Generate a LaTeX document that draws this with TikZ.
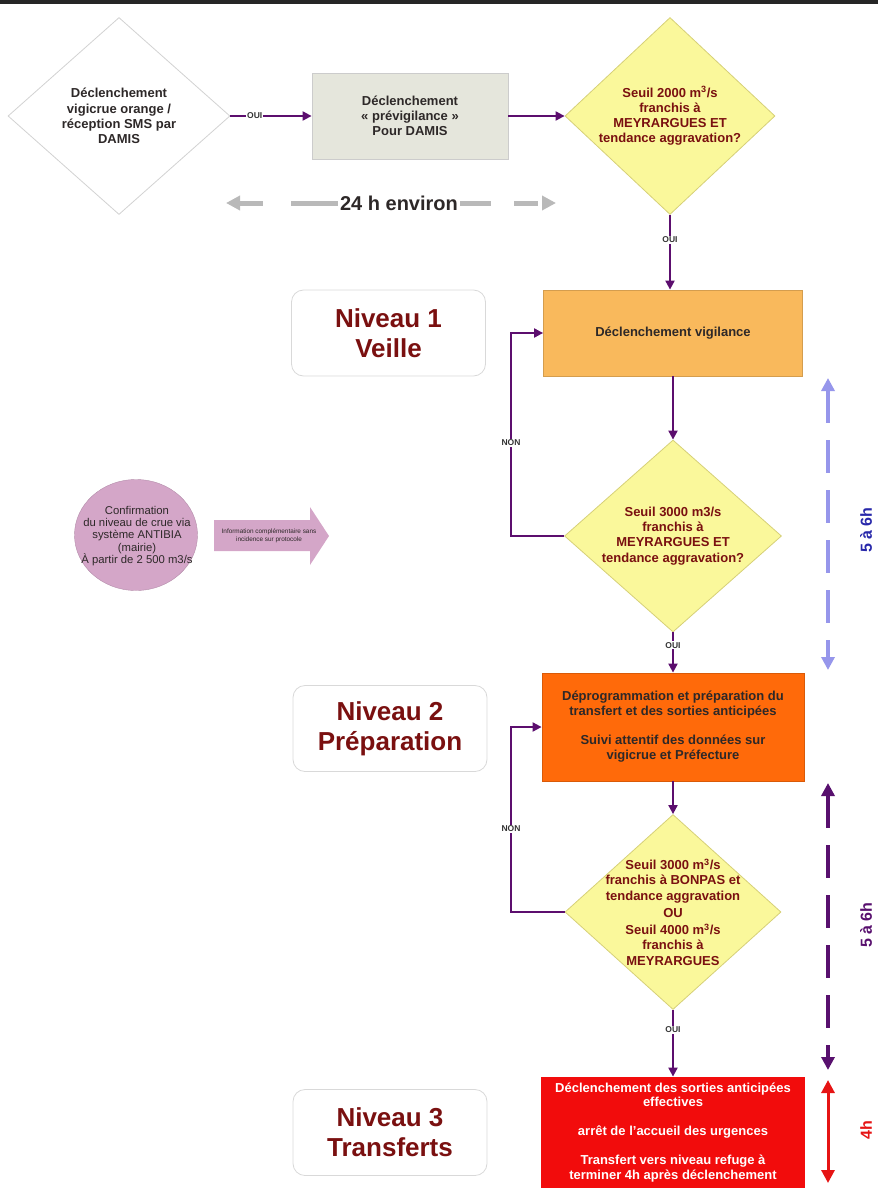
\documentclass[tikz,border=0pt]{standalone}
\usepackage{fontspec}
\setmainfont{Liberation Sans}
\usetikzlibrary{shapes.geometric,arrows.meta}

\definecolor{flowc}{RGB}{92,14,110}
\definecolor{seuilred}{RGB}{122,16,16}
\definecolor{textdark}{RGB}{45,40,40}
\definecolor{yellowfill}{RGB}{250,248,155}
\definecolor{yellowline}{RGB}{214,208,120}
\definecolor{prevfill}{RGB}{229,230,220}
\definecolor{vigfill}{RGB}{249,185,92}
\definecolor{prepfill}{RGB}{255,106,10}
\definecolor{transfill}{RGB}{242,12,12}
\definecolor{mauvefill}{RGB}{212,166,200}
\definecolor{spanblue}{RGB}{150,150,235}
\definecolor{spanbluetext}{RGB}{40,40,170}
\definecolor{spanpurple}{RGB}{88,16,110}
\definecolor{spanred}{RGB}{230,20,20}

\tikzset{
  decision/.style={diamond, minimum width=216pt, minimum height=195pt, inner sep=0pt,
    draw=yellowline, fill=yellowfill, line width=0.8pt},
  dtext/.style={align=center, text=seuilred, font=\fontsize{13}{15.3}\selectfont\bfseries},
  stepbox/.style={rectangle, inner sep=0pt, align=center, line width=0.8pt,
    font=\fontsize{13}{15}\selectfont\bfseries},
  levelbox/.style={rectangle, rounded corners=12pt, draw=gray!30, fill=white, line width=0.8pt,
    minimum width=194pt, minimum height=86pt, align=center, text=seuilred,
    font=\fontsize{26}{30}\selectfont\bfseries},
  flow/.style={draw=flowc, line width=2pt, -{Triangle[length=9pt,width=9pt]}},
  flowlbl/.style={fill=white, inner sep=1pt, text=black!80, font=\fontsize{8.5}{9}\selectfont\bfseries},
  span/.style={line width=4pt, {Triangle[length=13pt,width=13pt]}-{Triangle[length=13pt,width=13pt]}},
  spanlbl/.style={rotate=90, font=\fontsize{16}{18}\selectfont\bfseries}
}

\begin{document}
\begin{tikzpicture}[x=1pt,y=-1pt]
\useasboundingbox (0,0) rectangle (878,1191);
\fill[black!85] (0,0) rectangle (878,4);

% haut : declenchement et previgilance
\node[decision, minimum width=222pt, minimum height=197pt, fill=white, draw=gray!35] (trig) at (119,116) {};
\node[dtext, text=textdark] (trigtxt) at (trig) {D\'eclenchement\\vigicrue orange /\\r\'eception SMS par\\DAMIS};
\node[stepbox, fill=prevfill, draw=gray!40, minimum width=196pt, minimum height=86pt, text=textdark] (prev) at (410,116)
  {D\'eclenchement\\\guillemotleft\ pr\'evigilance \guillemotright\\Pour DAMIS};
\node[decision, minimum width=210pt, minimum height=197pt] (d2) at (670,116) {};
\node[dtext] (d2txt) at (d2) {Seuil 2000 m\textsuperscript{3}/s\\franchis \`a\\MEYRARGUES ET\\tendance aggravation?};

\coordinate (hA) at (226,203);
\coordinate (hB) at (556,203);
\draw[gray!55, line width=5pt, dash pattern=on 24pt off 28pt on 200pt off 23pt,
  {Triangle[length=14pt,width=14pt]}-{Triangle[length=14pt,width=14pt]}] (hA) -- (hB);
\node[fill=white, inner sep=2pt, text=textdark, font=\fontsize{20}{22}\selectfont\bfseries] (hlbl) at (399,203) {24 h environ};

% niveau 1
\node[levelbox] (veille) at (388.5,333) {Niveau 1\\Veille};
\node[stepbox, fill=vigfill, draw=vigfill!85!black, minimum width=259pt, minimum height=86pt, text=textdark] (vig) at (673,333)
  {D\'eclenchement vigilance};
\node[decision, minimum width=217pt, minimum height=192pt] (d3) at (673,536) {};
\node[dtext] (d3txt) at (d3) {Seuil 3000 m3/s\\franchis \`a\\MEYRARGUES ET\\tendance aggravation?};

\node[ellipse, fill=mauvefill, draw=mauvefill!85!black, minimum width=123pt, minimum height=111pt] (confirm) at (136,535) {};
\node[align=center, text=textdark, font=\fontsize{11.3}{12.2}\selectfont] (conftxt) at (137,536)
  {Confirmation\\du niveau de crue via\\syst\`eme ANTIBIA\\(mairie)\\\`A partir de 2 500 m3/s};
\fill[mauvefill] (214,520) -- (310,520) -- (310,507) -- (329,536) -- (310,565) -- (310,551) -- (214,551) -- cycle;
\node[align=center, text=textdark, font=\fontsize{6.4}{7.8}\selectfont] (info) at (269,536)
  {Information compl\'ementaire sans\\incidence sur protocole};

\coordinate (bA) at (828,378);
\coordinate (bB) at (828,670);
\draw[span, spanblue, dash pattern=on 33pt off 17pt] (bA) -- (bB);
\node[spanlbl, text=spanbluetext] (bl) at (866,530) {5 \`a 6h};

% niveau 2
\node[levelbox] (prepa) at (390,728.5) {Niveau 2\\Pr\'eparation};
\node[stepbox, fill=prepfill, draw=prepfill!85!black, minimum width=262pt, minimum height=108pt, text=textdark] (box2) at (673,727)
  {D\'eprogrammation et pr\'eparation du\\transfert et des sorties anticip\'ees\\[14pt]Suivi attentif des donn\'ees sur\\vigicrue et Pr\'efecture};
\node[decision, minimum width=216pt, minimum height=195pt] (d4) at (673,912) {};
\node[dtext] (d4txt) at (d4) {Seuil 3000 m\textsuperscript{3}/s\\franchis \`a BONPAS et\\tendance aggravation\\[2pt]OU\\[2pt]Seuil 4000 m\textsuperscript{3}/s\\franchis \`a\\MEYRARGUES};

\coordinate (pA) at (828,783);
\coordinate (pB) at (828,1070);
\draw[span, spanpurple, dash pattern=on 33pt off 17pt] (pA) -- (pB);
\node[spanlbl, text=spanpurple] (pl) at (866,925) {5 \`a 6h};

% niveau 3
\node[levelbox] (transf) at (390,1132.5) {Niveau 3\\Transferts};
\node[stepbox, fill=transfill, minimum width=264pt, minimum height=111pt, text=white,
  font=\fontsize{13}{14.5}\selectfont\bfseries] (box3) at (673,1132.5)
  {D\'eclenchement des sorties anticip\'ees\\effectives\\[14.5pt]arr\^et de l'accueil des urgences\\[14.5pt]Transfert vers niveau refuge \`a\\terminer 4h apr\`es d\'eclenchement};

\coordinate (rA) at (828,1080);
\coordinate (rB) at (828,1183);
\draw[span, spanred, line width=3pt] (rA) -- (rB);
\node[spanlbl, text=spanred] (rl) at (866,1130) {4h};

% connecteurs
\coordinate (loopx) at (511,0);
\draw[flow] (trig.east) -- node[flowlbl, pos=0.3] {OUI} (prev.west);
\draw[flow] (prev.east) -- (d2.west);
\draw[flow] (d2.south) -- node[flowlbl, pos=0.33] {OUI} (d2.south |- vig.north);
\draw[flow] (vig.south) -- (d3.north);
\draw[flow] (d3.west) -- (d3.west -| loopx) -- node[flowlbl, pos=0.46] {NON} (loopx |- vig.west) -- (vig.west);
\draw[flow] (d3.south) -- node[flowlbl, pos=0.32] {OUI} (box2.north);
\draw[flow] (box2.south) -- (d4.north);
\draw[flow] (d4.west) -- (d4.west -| loopx) -- node[flowlbl, pos=0.45] {NON} (loopx |- box2.west) -- (box2.west);
\draw[flow] (d4.south) -- node[flowlbl, pos=0.3] {OUI} (box3.north);
\end{tikzpicture}
\end{document}
